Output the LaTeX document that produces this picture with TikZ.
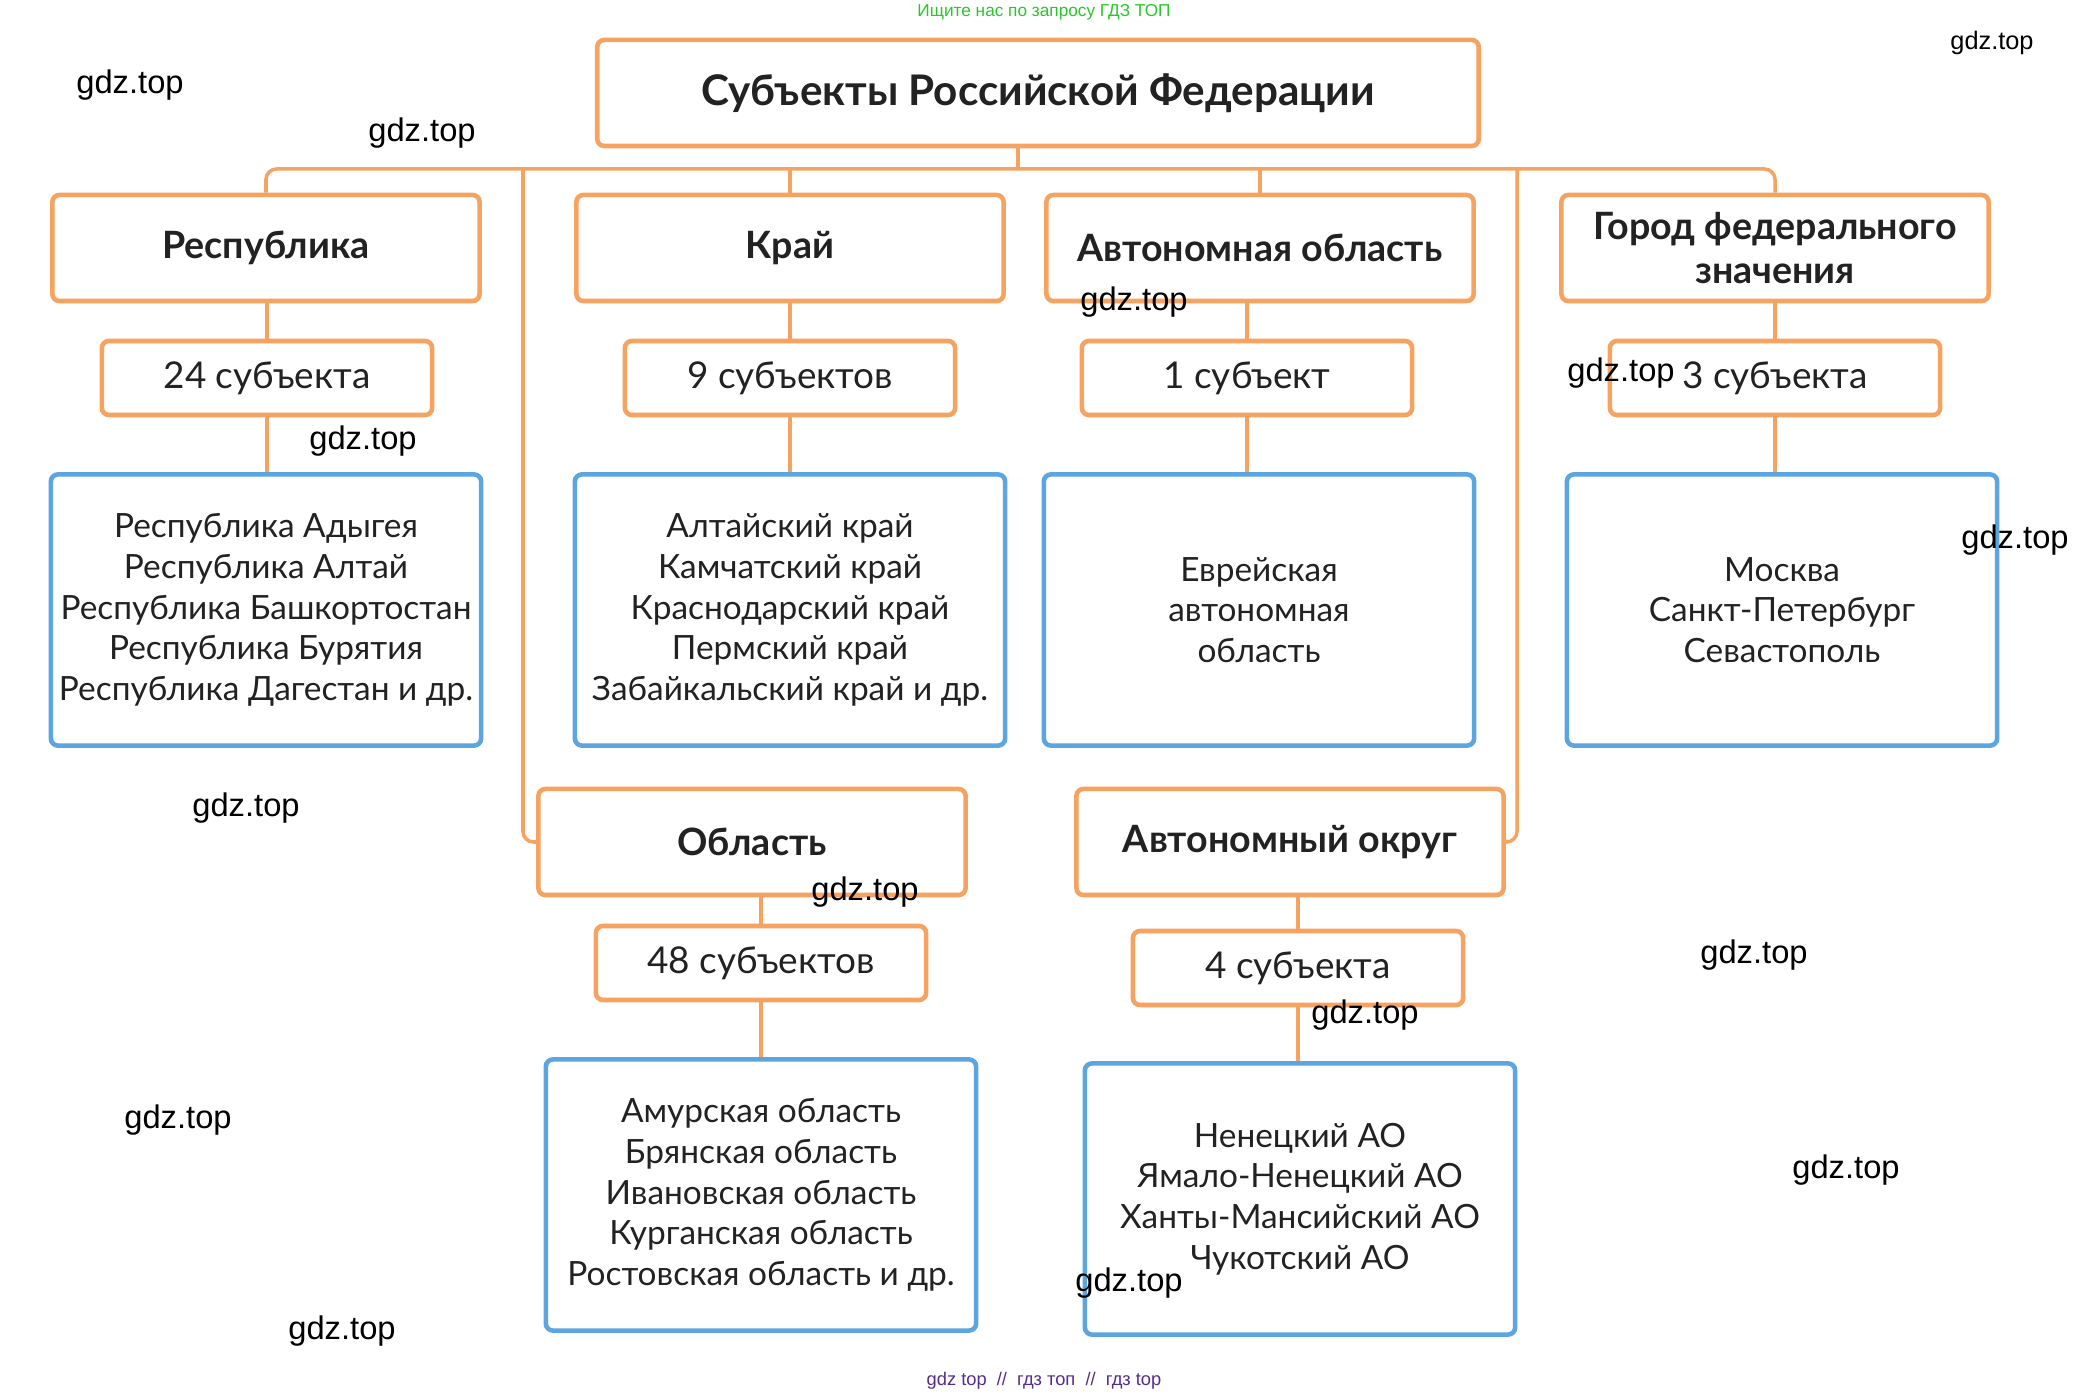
\documentclass[tikz,border=0pt]{standalone}
\usepackage{fontspec}
\setmainfont{Lato}
\newfontfamily\wmfont{Liberation Sans}
\usetikzlibrary{positioning}

\definecolor{boxorange}{RGB}{246,162,96}
\definecolor{boxblue}{RGB}{92,165,224}
\definecolor{txtgray}{RGB}{34,34,34}
\definecolor{wmgreen}{RGB}{40,200,40}
\definecolor{wmpurple}{RGB}{85,45,140}

\tikzset{
  headbox/.style={draw=boxorange,line width=1.3pt,rounded corners=2pt,minimum width=4.27cm,minimum height=1.06cm,font=\bfseries\fontsize{10.7}{12.4}\selectfont,text=txtgray,align=center},
  countbox/.style={draw=boxorange,line width=1.3pt,rounded corners=2pt,minimum width=3.3cm,minimum height=0.74cm,font=\fontsize{10.5}{12}\selectfont,text=txtgray},
  listbox/.style={draw=boxblue,line width=1.3pt,rounded corners=2pt,minimum width=4.3cm,minimum height=2.71cm,inner xsep=2pt,font=\fontsize{9.5}{11.6}\selectfont,text=txtgray,align=center},
  link/.style={draw=boxorange,line width=1pt},
  wm/.style={font=\wmfont\fontsize{9.3}{11}\selectfont}
}

\begin{document}
\begin{tikzpicture}[x=0.01cm,y=-0.01cm]
  \fill[white] (0,0) rectangle (2084,1395);
  \useasboundingbox (0,0) rectangle (2084,1395);

  \node[headbox,minimum width=8.81cm,font=\bfseries\fontsize{12}{14}\selectfont] (top) at (1038,93) {Субъекты Российской Федерации};

  % first row
  \node[headbox] (rep) at (266,248) {Республика};
  \node[headbox] (krai) at (790,248) {Край};
  \node[headbox] (avtobl) at (1260,248) {Автономная область};
  \node[headbox] (gorod) at (1775,248) {Город федерального\\значения};

  \node[countbox] (cntrep) at (267,378) {24 субъекта};
  \node[countbox] (cntkrai) at (790,378) {9 субъектов};
  \node[countbox] (cntavtobl) at (1247,378) {1 субъект};
  \node[countbox] (cntgorod) at (1775,378) {3 субъекта};

  \node[listbox] (lstrep) at (266,610) {Республика Адыгея\\Республика Алтай\\Республика Башкортостан\\Республика Бурятия\\Республика Дагестан и др.};
  \node[listbox] (lstkrai) at (790,610) {Алтайский край\\Камчатский край\\Краснодарский край\\Пермский край\\Забайкальский край и др.};
  \node[listbox] (lstavtobl) at (1259,610) {Еврейская\\автономная\\область};
  \node[listbox] (lstgorod) at (1782,610) {Москва\\Санкт-Петербург\\Севастополь};

  % second row
  \node[headbox] (obl) at (752,842) {Область};
  \node[headbox] (okr) at (1290,842) {Автономный округ};
  \node[countbox] (cntobl) at (761,963) {48 субъектов};
  \node[countbox] (cntokr) at (1298,968) {4 субъекта};
  \node[listbox] (lstobl) at (761,1195) {Амурская область\\Брянская область\\Ивановская область\\Курганская область\\Ростовская область и др.};
  \node[listbox] (lstokr) at (1300,1199) {Ненецкий АО\\Ямало-Ненецкий АО\\Ханты-Мансийский АО\\Чукотский АО};

  % bus
  \coordinate (drop) at (1018,169);
  \coordinate (oblDrop) at (523,169);
  \coordinate (okrDrop) at (1517,169);
  \draw[link] (drop) -- (drop |- top.south);
  \draw[link,rounded corners=3pt] (rep.north) -- (rep.north |- drop) -- (gorod.north |- drop) -- (gorod.north);
  \draw[link] (krai.north) -- (krai.north |- drop);
  \draw[link] (avtobl.north) -- (avtobl.north |- drop);
  \draw[link,rounded corners=3pt] (oblDrop) |- (obl.west);
  \draw[link,rounded corners=3pt] (okrDrop) |- (okr.east);

  \draw[link] (cntrep.north) -- (cntrep.north |- rep.south);
  \draw[link] (cntkrai.north) -- (cntkrai.north |- krai.south);
  \draw[link] (cntavtobl.north) -- (cntavtobl.north |- avtobl.south);
  \draw[link] (cntgorod.north) -- (cntgorod.north |- gorod.south);
  \draw[link] (cntrep.south) -- (cntrep.south |- lstrep.north);
  \draw[link] (cntkrai.south) -- (cntkrai.south |- lstkrai.north);
  \draw[link] (cntavtobl.south) -- (cntavtobl.south |- lstavtobl.north);
  \draw[link] (cntgorod.south) -- (cntgorod.south |- lstgorod.north);

  \draw[link] (cntobl.north) -- (cntobl.north |- obl.south);
  \draw[link] (cntokr.north) -- (cntokr.north |- okr.south);
  \draw[link] (cntobl.south) -- (cntobl.south |- lstobl.north);
  \draw[link] (cntokr.south) -- (cntokr.south |- lstokr.north);

  % watermarks
  \node[font=\wmfont\fontsize{4.9}{6}\selectfont,text=wmgreen] (hint) at (1044,12) {Ищите нас по запросу ГДЗ ТОП};
  \node[font=\wmfont\fontsize{5.2}{6}\selectfont,text=wmpurple] (foot) at (1044,1381) {gdz top\ \ //\ \ гдз топ\ \ //\ \ гдз top};
  \node[wm,font=\wmfont\fontsize{7.2}{9}\selectfont] (wm3) at (1992,43) {gdz.top};
  \foreach \i/\p in {1/{130,85},2/{422,133},4/{1134,302},5/{1621,373},6/{363,441},7/{2015,540},8/{246,808},9/{865,892},10/{1754,955},11/{1365,1015},12/{178,1120},13/{1846,1170},14/{1129,1283},15/{342,1331}}
    \node[wm] (wm\i) at (\p) {gdz.top};
\end{tikzpicture}
\end{document}
